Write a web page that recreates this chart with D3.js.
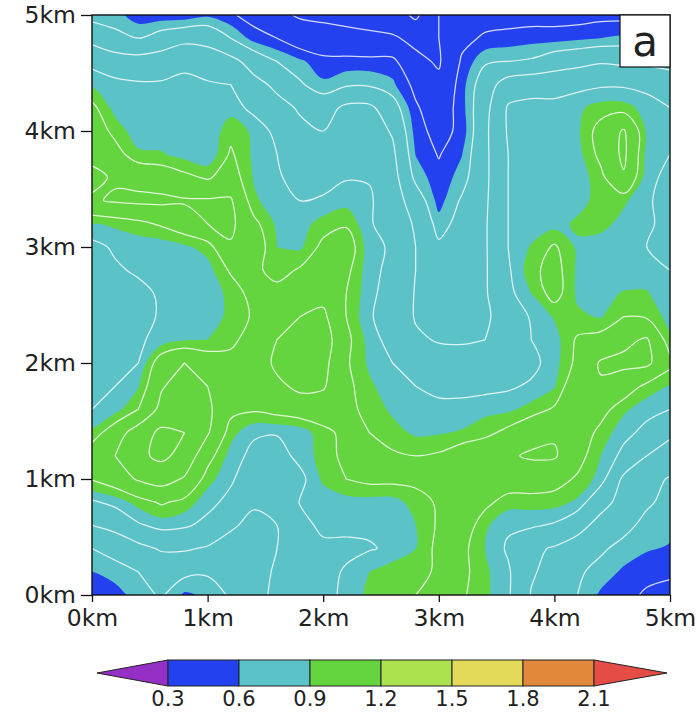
<!DOCTYPE html>
<html>
<head>
<meta charset="utf-8">
<script src="https://cdn.jsdelivr.net/npm/d3@7"></script>
<style>
  body { margin: 0; background: #ffffff; }
  svg { display: block; }
  text { font-family: "DejaVu Sans", sans-serif; fill: #222; }
</style>
</head>
<body>
<svg id="chart" width="697" height="714"></svg>
<script>
// Field sampled every 0.2 km; first row is y = 5 km, last row is y = 0 km,
// columns run from x = 0 km to x = 5 km.
const gridStep = 0.2;
const row00 = [0.62,0.62,0.57,0.57,0.57,0.59,0.56,0.52,0.47,0.44,0.43,0.42,0.41,0.40,0.33,0.45,0.50,0.52,0.52,0.52,0.52,0.52,0.53,0.53,0.53,0.53];
const row01 = [0.72,0.67,0.65,0.69,0.72,0.72,0.65,0.58,0.55,0.50,0.49,0.48,0.47,0.46,0.43,0.45,0.53,0.56,0.57,0.58,0.58,0.59,0.60,0.61,0.60,0.60];
const row02 = [0.83,0.80,0.79,0.80,0.84,0.80,0.78,0.71,0.65,0.61,0.57,0.57,0.57,0.57,0.47,0.44,0.56,0.64,0.65,0.66,0.70,0.72,0.74,0.73,0.73,0.72];
const row03 = [0.89,0.87,0.86,0.86,0.86,0.86,0.85,0.78,0.73,0.66,0.61,0.64,0.64,0.61,0.53,0.47,0.58,0.70,0.80,0.82,0.82,0.83,0.84,0.84,0.83,0.80];
const row04 = [0.97,0.88,0.87,0.86,0.87,0.87,0.88,0.83,0.78,0.74,0.71,0.77,0.77,0.69,0.56,0.50,0.58,0.72,0.86,0.87,0.87,0.89,0.92,0.92,0.88,0.85];
const row05 = [1.00,0.93,0.87,0.87,0.87,0.86,0.93,0.89,0.83,0.77,0.75,0.80,0.80,0.74,0.58,0.52,0.57,0.73,0.86,0.87,0.87,0.89,0.98,1.06,0.89,0.85];
const row06 = [1.03,0.98,0.91,0.905,0.88,0.86,0.96,0.89,0.85,0.80,0.79,0.82,0.82,0.77,0.598,0.545,0.598,0.73,0.85,0.87,0.87,0.88,0.97,1.07,0.88,0.85];
const row07 = [1.07,1.04,1.02,1.00,0.97,0.94,0.99,0.895,0.86,0.82,0.82,0.845,0.845,0.79,0.63,0.57,0.62,0.73,0.85,0.86,0.87,0.87,0.93,1.04,0.87,0.83];
const row08 = [1.04,1.06,1.07,1.07,1.06,1.06,1.06,0.91,0.87,0.85,0.86,0.88,0.86,0.80,0.70,0.58,0.66,0.735,0.85,0.86,0.87,0.88,0.92,0.91,0.86,0.82];
const row09 = [0.895,0.91,0.93,0.96,1.00,1.05,1.07,0.97,0.89,0.88,0.92,0.94,0.86,0.80,0.74,0.62,0.68,0.74,0.85,0.87,0.88,0.91,0.92,0.88,0.86,0.83];
const row10 = [0.83,0.86,0.87,0.87,0.89,0.92,1.04,1.00,0.90,0.89,0.97,1.00,0.87,0.84,0.75,0.665,0.70,0.74,0.85,0.905,0.96,0.89,0.87,0.86,0.85,0.84];
const row11 = [0.81,0.84,0.86,0.87,0.88,0.88,0.96,0.97,0.92,0.96,1.00,0.97,0.87,0.83,0.75,0.69,0.71,0.74,0.84,0.93,0.98,0.89,0.86,0.86,0.87,0.85];
const row12 = [0.80,0.81,0.83,0.86,0.87,0.88,0.91,0.98,0.98,1.00,1.02,0.95,0.87,0.81,0.745,0.71,0.72,0.74,0.83,0.90,0.98,0.89,0.88,0.905,0.905,0.86];
const row13 = [0.79,0.80,0.82,0.86,0.87,0.88,0.91,0.96,1.01,1.05,1.07,0.95,0.86,0.80,0.745,0.725,0.73,0.74,0.78,0.86,0.905,0.91,0.895,0.95,0.94,0.88];
const row14 = [0.79,0.81,0.84,0.87,0.895,0.90,0.93,0.99,1.05,1.08,1.10,0.97,0.88,0.82,0.76,0.745,0.745,0.75,0.80,0.85,0.88,0.96,0.98,1.03,1.06,0.91];
const row15 = [0.80,0.82,0.85,1.00,1.05,1.00,0.98,0.99,1.07,1.10,1.08,0.96,0.89,0.85,0.81,0.78,0.77,0.77,0.80,0.83,0.88,0.97,1.06,1.07,1.07,0.97];
const row16 = [0.82,0.85,0.895,1.04,1.10,1.05,1.00,0.97,1.03,1.07,1.06,0.97,0.91,0.87,0.85,0.83,0.83,0.83,0.84,0.86,0.895,1.02,1.04,1.00,0.93,0.895];
const row17 = [0.85,0.88,0.95,1.08,1.12,1.07,0.97,0.96,0.98,1.00,1.00,0.97,0.93,0.89,0.87,0.87,0.87,0.885,0.89,0.92,0.96,1.02,0.98,0.91,0.87,0.85];
const row18 = [0.91,1.00,1.10,1.17,1.15,1.06,0.92,0.86,0.855,0.87,0.93,0.97,0.95,0.92,0.89,0.895,0.905,0.93,0.97,1.02,1.04,1.00,0.93,0.87,0.83,0.77];
const row19 = [1.00,1.05,1.13,1.17,1.12,0.98,0.88,0.83,0.82,0.87,0.92,0.97,0.99,0.96,0.95,0.96,1.00,1.02,1.04,1.06,1.06,0.98,0.90,0.83,0.75,0.70];
const row20 = [0.955,1.00,1.06,1.09,1.04,0.92,0.86,0.80,0.79,0.83,0.91,0.95,0.97,0.97,0.97,0.99,1.02,1.02,1.00,1.00,0.98,0.94,0.88,0.73,0.67,0.645];
const row21 = [0.84,0.87,0.92,0.96,0.93,0.87,0.83,0.76,0.75,0.855,0.87,0.88,0.88,0.88,0.92,0.96,0.99,0.97,0.92,0.92,0.92,0.89,0.78,0.72,0.66,0.63];
const row22 = [0.75,0.78,0.84,0.87,0.86,0.83,0.76,0.73,0.75,0.82,0.87,0.87,0.86,0.87,0.90,0.96,1.00,0.91,0.86,0.86,0.84,0.78,0.72,0.67,0.63,0.615];
const row23 = [0.65,0.68,0.72,0.76,0.76,0.74,0.72,0.72,0.75,0.835,0.83,0.83,0.845,0.86,0.90,0.97,0.97,0.90,0.84,0.77,0.74,0.71,0.66,0.63,0.605,0.595];
const row24 = [0.60,0.62,0.65,0.68,0.67,0.66,0.69,0.72,0.76,0.80,0.82,0.86,0.90,0.93,0.93,0.96,0.97,0.91,0.86,0.76,0.72,0.66,0.63,0.59,0.57,0.56];
const row25 = [0.55,0.58,0.62,0.66,0.59,0.61,0.66,0.72,0.77,0.80,0.82,0.87,0.91,0.94,0.95,0.96,0.96,0.91,0.86,0.745,0.70,0.65,0.59,0.57,0.54,0.53];
const field = [row00,row01,row02,row03,row04,row05,row06,row07,row08,row09,row10,row11,row12,
               row13,row14,row15,row16,row17,row18,row19,row20,row21,row22,row23,row24,row25];

// colour classes: below 0.3, 0.3-0.6, ..., above 2.1
const fillThresholds = [0.3, 0.6, 0.9, 1.2, 1.5, 1.8, 2.1];
const fillColors = ["#9430c6", "#2441f0", "#5bc3c7", "#64d53f", "#ade24f", "#e3da5a", "#e2883c", "#e54c46"];
// white isolines
const lineLevels = [0.35, 0.45, 0.55, 0.65, 0.75, 0.85, 0.95, 1.05, 1.15];
const axisTicks = [0, 1, 2, 3, 4, 5];
const tickLabels = ["0km", "1km", "2km", "3km", "4km", "5km"];
const panelLabel = "a";

const svg = d3.select("#chart");
const plot = { left: 92, right: 670, top: 15, bottom: 595 };
const x = d3.scaleLinear().domain([0, 5]).range([plot.left, plot.right]);
const y = d3.scaleLinear().domain([0, 5]).range([plot.bottom, plot.top]);

const nCols = field[0].length, nRows = field.length;
const values = field.flat();
// grid coordinates from d3.contours put sample i at i + 0.5
const gx = u => x((u - 0.5) * gridStep);
const gy = v => y(5 - (v - 0.5) * gridStep);

const closedRing = d3.line().x(p => gx(p[0])).y(p => gy(p[1]))
  .curve(d3.curveCatmullRomClosed.alpha(0.5));
const openRun = d3.line().x(p => gx(p[0])).y(p => gy(p[1]))
  .curve(d3.curveCatmullRom.alpha(0.5));

function fillPath(mp) {
  let s = "";
  for (const poly of mp.coordinates)
    for (const ring of poly) s += closedRing(ring.slice(0, -1));
  return s;
}

const onEdge = p => p[0] <= 0 || p[0] >= nCols || p[1] <= 0 || p[1] >= nRows;
function linePath(mp) {
  let s = "";
  for (const poly of mp.coordinates) {
    for (const ring of poly) {
      const pts = ring.slice(0, -1);
      const k = pts.findIndex(onEdge);
      if (k < 0) { s += closedRing(pts); continue; }
      const rot = pts.slice(k).concat(pts.slice(0, k));
      let run = [];
      for (const p of rot) {
        if (onEdge(p)) { if (run.length > 1) s += openRun(run); run = []; }
        else run.push(p);
      }
      if (run.length > 1) s += openRun(run);
    }
  }
  return s;
}

svg.append("defs").append("clipPath").attr("id", "plotClip")
  .append("rect")
  .attr("x", plot.left).attr("y", plot.top)
  .attr("width", plot.right - plot.left).attr("height", plot.bottom - plot.top);

const body = svg.append("g").attr("clip-path", "url(#plotClip)");

body.append("rect")
  .attr("x", plot.left).attr("y", plot.top)
  .attr("width", plot.right - plot.left).attr("height", plot.bottom - plot.top)
  .attr("fill", fillColors[0]);

const bands = d3.contours().size([nCols, nRows]).thresholds(fillThresholds)(values);
body.append("g").selectAll("path")
  .data(bands)
  .join("path")
  .attr("d", fillPath)
  .attr("fill-rule", "evenodd")
  .attr("fill", d => fillColors[fillThresholds.indexOf(d.value) + 1]);

const isolines = d3.contours().size([nCols, nRows]).thresholds(lineLevels)(values);
body.append("g").selectAll("path")
  .data(isolines)
  .join("path")
  .attr("d", linePath)
  .attr("fill", "none")
  .attr("stroke", "#ffffff")
  .attr("stroke-opacity", 0.8)
  .attr("stroke-width", 1.25)
  .attr("stroke-linejoin", "round");

// frame
svg.append("rect")
  .attr("x", plot.left).attr("y", plot.top)
  .attr("width", plot.right - plot.left).attr("height", plot.bottom - plot.top)
  .attr("fill", "none").attr("stroke", "#111").attr("stroke-width", 1.4);

// axes
const leftAxis = d3.axisLeft(y).tickValues(axisTicks)
  .tickFormat((d, i) => tickLabels[i]).tickSize(11).tickPadding(5).tickSizeOuter(0);
const bottomAxis = d3.axisBottom(x).tickValues(axisTicks)
  .tickFormat((d, i) => tickLabels[i]).tickSize(7).tickPadding(7).tickSizeOuter(0);

const gl = svg.append("g").attr("transform", `translate(${plot.left},0)`).call(leftAxis);
const gb = svg.append("g").attr("transform", `translate(0,${plot.bottom})`).call(bottomAxis);
for (const g of [gl, gb]) {
  g.select(".domain").remove();
  g.selectAll(".tick line").attr("stroke", "#111").attr("stroke-width", 1.3);
  g.selectAll(".tick text").style("font-family", '"DejaVu Sans", sans-serif')
    .style("font-size", "23.5px").attr("fill", "#222");
}

// panel label
svg.append("rect").attr("x", 620).attr("y", plot.top).attr("width", 50).attr("height", 52)
  .attr("fill", "#ffffff").attr("stroke", "#111").attr("stroke-width", 1.2);
svg.append("text").attr("x", 645).attr("y", 56).attr("text-anchor", "middle")
  .style("font-size", "42px").text(panelLabel);

// colour bar with triangular ends
const cb = { left: 97, right: 667, top: 660, height: 26 };
const cbScale = d3.scaleLinear()
  .domain([fillThresholds[0], fillThresholds[fillThresholds.length - 1]])
  .range([168, 594]);
const cbg = svg.append("g");
const mid = cb.top + cb.height / 2;
cbg.append("path")
  .attr("d", `M${cbScale(fillThresholds[0])},${cb.top}L${cb.left},${mid}L${cbScale(fillThresholds[0])},${cb.top + cb.height}Z`)
  .attr("fill", fillColors[0]).attr("stroke", "#222").attr("stroke-width", 1);
for (let i = 0; i < fillThresholds.length - 1; i++) {
  cbg.append("rect")
    .attr("x", cbScale(fillThresholds[i])).attr("y", cb.top)
    .attr("width", cbScale(fillThresholds[i + 1]) - cbScale(fillThresholds[i]))
    .attr("height", cb.height)
    .attr("fill", fillColors[i + 1]).attr("stroke", "#222").attr("stroke-width", 1);
}
const last = cbScale(fillThresholds[fillThresholds.length - 1]);
cbg.append("path")
  .attr("d", `M${last},${cb.top}L${cb.right},${mid}L${last},${cb.top + cb.height}Z`)
  .attr("fill", fillColors[fillColors.length - 1]).attr("stroke", "#222").attr("stroke-width", 1);
cbg.selectAll("text.cbl")
  .data(fillThresholds)
  .join("text")
  .attr("class", "cbl")
  .attr("x", d => cbScale(d)).attr("y", cb.top + cb.height + 20)
  .attr("text-anchor", "middle")
  .style("font-size", "21px")
  .text(d => d.toFixed(1));
</script>
</body>
</html>
